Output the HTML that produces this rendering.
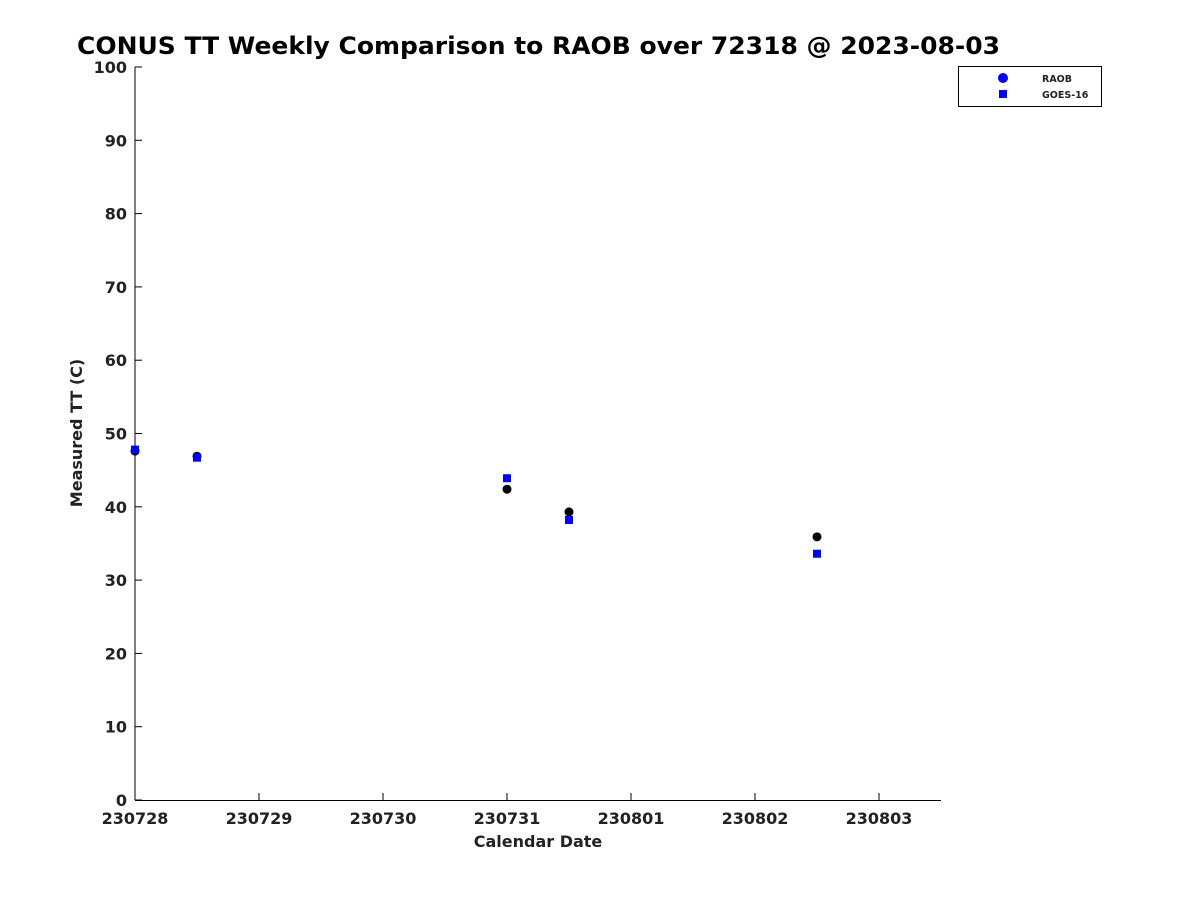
<!DOCTYPE html>
<html><head><meta charset="utf-8"><style>
body{margin:0;background:#fff;}
svg text{font-family:"DejaVu Sans","Liberation Sans",sans-serif;font-weight:bold;fill:#222;}
</style></head><body>
<svg width="1200" height="900" xmlns="http://www.w3.org/2000/svg">
<text x="77" y="54" font-size="24" textLength="923" lengthAdjust="spacingAndGlyphs" style="fill:#000">CONUS TT Weekly Comparison to RAOB over 72318 @ 2023-08-03</text>
<g id="axes"></g>
<g id="marks"></g>
<text x="538" y="847" font-size="16" text-anchor="middle">Calendar Date</text>
<text transform="translate(82,433) rotate(-90)" font-size="16" text-anchor="middle">Measured TT (C)</text>
<g>
<rect x="958.5" y="66.5" width="143" height="40" fill="#fff" stroke="#000"/>
<circle cx="1003" cy="78" r="5" fill="#0000ff"/>
<text x="1042" y="82" font-size="9.5">RAOB</text>
<rect x="999" y="90" width="8" height="8" fill="#0000ff"/>
<text x="1042" y="98" font-size="9.5">GOES-16</text>
</g>
</svg>
<script>
const xTickLabels=["230728","230729","230730","230731","230801","230802","230803"];
const yTicks=[0,10,20,30,40,50,60,70,80,90,100];
const dayOffsets=[0,0.5,3,3.5,5.5];
const raobValues=[47.6,46.9,42.4,39.3,35.9];
const goesValues=[47.8,46.7,43.9,38.2,33.6];
const X0=135,X1=941,Y0=800,Y1=67,XMAX=6.5,YMAX=100;
const xs=d=>X0+(X1-X0)*d/XMAX;
const ys=v=>Y0-(Y0-Y1)*v/YMAX;
const NS="http://www.w3.org/2000/svg";
function mk(t,a,p){const e=document.createElementNS(NS,t);for(const k in a)e.setAttribute(k,a[k]);p.appendChild(e);return e;}
const ax=document.getElementById('axes'),mg=document.getElementById('marks');
let l=mk('line',{x1:X0,y1:Y1,x2:X0,y2:Y0,stroke:'#000'},ax);


l=mk('line',{x1:X0,y1:Y0+0.5,x2:X1,y2:Y0+0.5,stroke:'#000'},ax);


yTicks.forEach(v=>{const y=ys(v);
 const t=mk('line',{x1:X0,y1:y,x2:X0+7,y2:y,stroke:'#000'},ax);
 
 
 const tx=mk('text',{x:X0-8,y:y+6,'font-size':16,'text-anchor':'end'},ax);tx.textContent=v;
 
 
});
xTickLabels.forEach((s,i)=>{const x=xs(i);
 const t=mk('line',{x1:x,y1:Y0,x2:x,y2:Y0-7,stroke:'#000'},ax);
 
 
 const tx=mk('text',{x:x,y:824,'font-size':16,'text-anchor':'middle'},ax);tx.textContent=s;
 
 
});
dayOffsets.forEach((d,i)=>{
 const c=mk('circle',{cx:xs(d),cy:ys(raobValues[i]),r:4.5,fill:'#000'},mg);
 
 
 const r=mk('rect',{x:xs(d)-4,y:ys(goesValues[i])-4,width:8,height:8,fill:'#0000ff'},mg);
 
 
});
</script>
</body></html>
